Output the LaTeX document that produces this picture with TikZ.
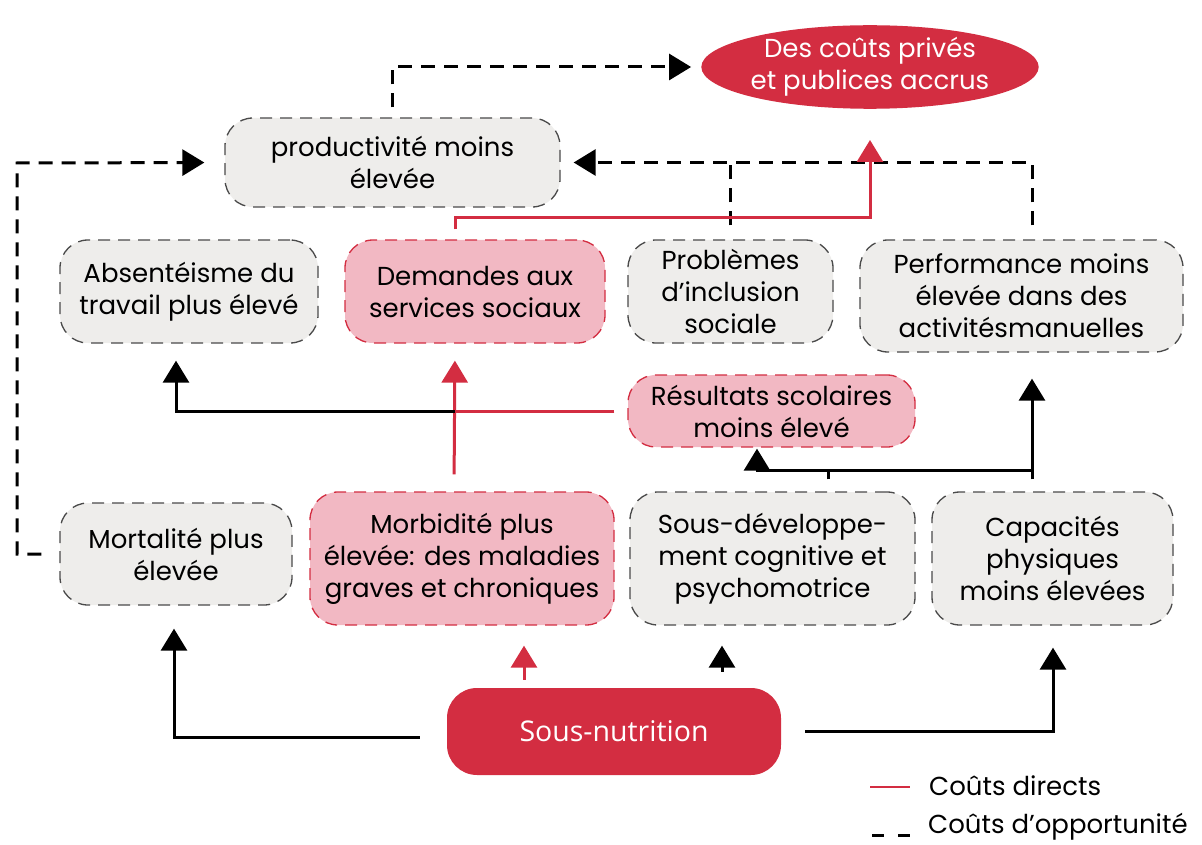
\documentclass[tikz,border=0pt]{standalone}
\usepackage{fontspec}
\setmainfont{Poppins}
\newfontfamily\osans{Open Sans}
\usetikzlibrary{arrows.meta,shapes.geometric}
\definecolor{cred}{HTML}{D32D41}
\definecolor{cpink}{HTML}{F2B8C3}
\definecolor{cgray}{HTML}{EEEDEB}
\definecolor{cborder}{HTML}{4A4A4A}
\begin{document}
\begin{tikzpicture}[x=1pt,y=-1pt,
  txt/.style={font=\fontsize{26}{32}\selectfont},
  box/.style={draw=cborder, line width=1.3pt, dash pattern=on 12pt off 8pt, fill=cgray,
    rounded corners=28pt, align=center, txt, inner sep=0pt},
  pbox/.style={box, fill=cpink, draw=cred},
  tipA/.style={-{Triangle[width=26pt,length=22pt]}},
  opp/.style={line width=3pt, dash pattern=on 14pt off 9pt, tipA},
  blk/.style={line width=3pt, black, tipA},
  dir/.style={line width=3pt, cred, tipA},
  dirplain/.style={line width=3pt, cred},
]
\useasboundingbox (0,0) rectangle (1202,845);

% nodes
\node[ellipse, fill=cred, text=white, minimum width=330pt, minimum height=80pt, inner sep=0pt,
  align=center, txt] (ell) at (870,67) {Des coûts privés\\et publices accrus};
\node[box, minimum width=335pt, minimum height=89pt] (prod) at (392.5,162.5) {productivité moins\\élevée};
\node[box, minimum width=258pt, minimum height=103pt] (abs) at (189,291.5) {Absentéisme du\\travail plus élevé};
\node[pbox, minimum width=260pt, minimum height=103pt] (dem) at (475,291.5) {Demandes aux\\services sociaux};
\node[box, minimum width=205pt, minimum height=103pt] (prob) at (730.5,291.5) {Problèmes\\d’inclusion\\sociale};
\node[box, minimum width=323pt, minimum height=112pt] (perf) at (1021.5,296) {Performance moins\\élevée dans des\\activitésmanuelles};
\node[pbox, minimum width=287pt, minimum height=72pt] (res) at (771.5,411) {Résultats scolaires\\moins élevé};
\node[box, minimum width=232pt, minimum height=102pt] (mort) at (176,554) {Mortalité plus\\élevée};
\node[pbox, minimum width=304pt, minimum height=133pt] (morb) at (462,558.5) {Morbidité plus\\élevée: des maladies\\graves et chroniques};
\node[box, minimum width=285pt, minimum height=133pt] (sdev) at (772.5,558.5) {Sous-développe-\\ment cognitive et\\psychomotrice};
\node[box, minimum width=241pt, minimum height=133pt] (cap) at (1052.5,558.5) {Capacités\\physiques\\moins élevées};
\node[fill=cred, text=white, rounded corners=30pt, minimum width=334pt, minimum height=87pt,
  inner sep=0pt, font=\osans\fontsize{28.5}{34}\selectfont] (sn) at (614,731.5) {Sous-nutrition};

% coordinates
\coordinate (lc) at (17,163);
\coordinate (rc) at (870,218);
\coordinate (j) at (455,411);
\coordinate (k) at (1032,470);

% opportunity (dashed) connectors
\draw[opp, shorten <=10pt, shorten >=10pt] (prod.north) |- (ell.west);
\draw[opp, shorten <=18pt, shorten >=20pt] (mort.west) -| (lc) -- (prod.west);
\draw[opp, shorten <=14pt, shorten >=13pt] ([xshift=10.5pt]perf.north) |- (prod.east);
\draw[line width=3pt, dash pattern=on 14pt off 9pt, shorten <=14pt] (prob.north) -- (prob.north |- prod.east);

% direct (red) connectors
\draw[dir, shorten <=10pt, shorten >=31pt] ([xshift=-20pt]dem.north) |- (rc) -- (ell.south);
\draw[dir, shorten <=17pt, shorten >=17pt] ([xshift=-8pt]morb.north) -- ([xshift=-20pt]dem.south);
\draw[dirplain, shorten <=13pt] (res.west) -- (j);
\draw[blk, shorten >=17pt] (j) -| ([xshift=-13pt]abs.south);

% black connectors
\draw[blk, shorten <=12pt, shorten >=26pt] ([xshift=-20.5pt]cap.north) -- ([xshift=10.5pt]perf.south);
\draw[blk, shorten >=1pt] (k) -| ([xshift=-14.5pt]res.south);
\draw[line width=3pt, shorten <=12pt] ([xshift=55.5pt]sdev.north) -- ([xshift=55.5pt]sdev.north |- k);

% from Sous-nutrition
\draw[blk, shorten <=27pt, shorten >=23pt] ([yshift=-6pt]sn.west) -| ([xshift=-2pt]mort.south);
\draw[dir, shorten <=8pt, shorten >=20pt] ([xshift=-90pt]sn.north) -- ([xshift=62pt]morb.south);
\draw[blk, shorten <=16pt, shorten >=20pt] ([xshift=108pt]sn.north) -- ([xshift=-50.5pt]sdev.south);
\draw[blk, shorten <=24pt, shorten >=22pt] (sn.east) -| ([xshift=0.5pt]cap.south);

% legend
\coordinate (l1a) at (870,787);
\coordinate (l1b) at (910,787);
\coordinate (l2a) at (872,835);
\coordinate (l2b) at (910,835);
\draw[line width=2.5pt, cred] (l1a) -- (l1b);
\draw[line width=3pt, dash pattern=on 12pt off 14pt] (l2a) -- (l2b);
\node[anchor=west, inner sep=0pt, txt] (lt1) at (929,786) {Coûts directs};
\node[anchor=west, inner sep=0pt, txt] (lt2) at (928,827) {Coûts d’opportunité};
\end{tikzpicture}
\end{document}
